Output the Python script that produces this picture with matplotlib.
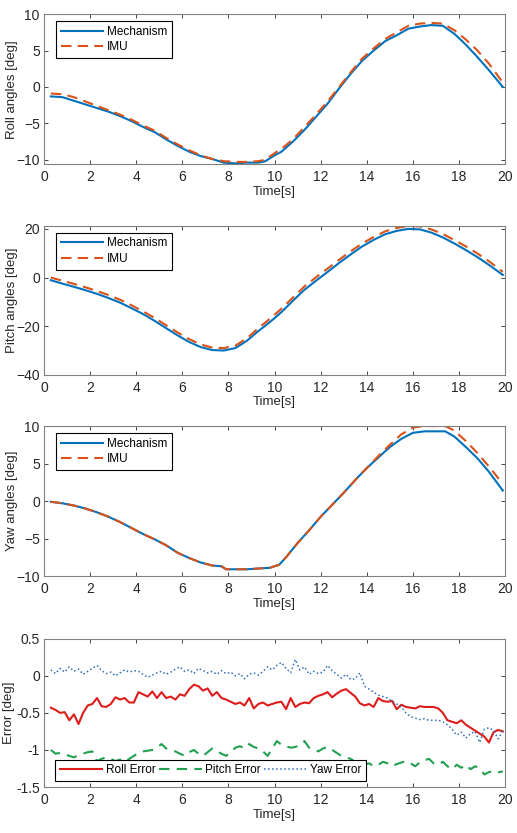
import numpy as np
import matplotlib
matplotlib.use('Agg')
import matplotlib.pyplot as plt

plt.rcParams['font.family'] = ['Liberation Sans', 'DejaVu Sans']
matplotlib.rc('xtick', labelsize=10, direction='in', top=True)
matplotlib.rc('ytick', labelsize=10, direction='in', right=True)

MECH_COLOR = '#0072BD'
IMU_COLOR = '#D95319'

# roll / pitch angle samples (s, deg)
t_rp = [0.3, 0.8, 1.3, 1.8, 2.3, 2.8, 3.3, 3.8, 4.3, 4.8, 5.3, 5.8, 6.3, 6.8,
        7.3, 7.8, 8.3, 8.8, 9.3, 9.6, 10.0, 10.3, 10.8, 11.3, 11.8, 12.3,
        12.8, 13.3, 13.8, 14.3, 14.8, 15.3, 15.8, 16.3, 16.8, 17.3, 17.8,
        18.3, 18.8, 19.3, 19.9]
roll_mech = [-1.3, -1.4, -1.9, -2.4, -2.9, -3.4, -4.0, -4.7, -5.5, -6.2, -7.2,
             -8.1, -8.9, -9.5, -9.9, -10.4, -10.5, -10.4, -10.4, -10.2, -9.4,
             -8.9, -7.5, -5.9, -4.1, -2.3, -0.2, 1.8, 3.6, 5.0, 6.3, 7.1, 8.0,
             8.3, 8.5, 8.4, 7.3, 5.8, 4.1, 2.3, 0.0]
roll_imu = [-0.9, -1.0, -1.4, -2.0, -2.6, -3.2, -3.8, -4.5, -5.3, -6.0, -7.0,
            -7.9, -8.7, -9.4, -9.9, -10.2, -10.3, -10.3, -10.2, -10.0, -9.1,
            -8.5, -7.2, -5.5, -3.8, -2.0, 0.0, 2.0, 3.9, 5.3, 6.6, 7.5, 8.4,
            8.7, 8.8, 8.7, 7.8, 6.5, 5.0, 3.2, 0.6]
pitch_mech = [-1.1, -2.5, -3.8, -5.2, -6.7, -8.4, -10.3, -12.6, -15.0, -17.8,
              -20.8, -23.8, -26.5, -28.6, -29.8, -30.0, -29.0, -26.0, -22.0,
              -19.8, -16.7, -14.2, -9.5, -5.0, -1.3, 2.3, 6.0, 9.5, 12.8,
              15.5, 17.8, 19.2, 20.0, 19.8, 18.5, 16.5, 14.0, 11.3, 8.4, 5.2,
              1.1]
pitch_imu = [0.0, -1.3, -2.6, -4.0, -5.5, -7.2, -9.1, -11.4, -13.9, -16.6,
             -19.6, -22.6, -25.3, -27.5, -28.8, -29.0, -28.0, -25.0, -20.8,
             -18.5, -15.3, -12.8, -8.2, -3.6, 0.1, 3.7, 7.3, 10.8, 14.0, 16.7,
             19.0, 20.4, 21.2, 21.0, 19.8, 17.9, 15.4, 12.8, 9.9, 6.7, 2.4]

# yaw angle samples
t_yaw = [0.3, 0.8, 1.3, 1.8, 2.3, 2.8, 3.3, 3.8, 4.3, 4.8, 5.3, 5.8, 6.3, 6.8,
         7.3, 7.7, 7.9, 8.3, 8.8, 9.3, 9.8, 10.2, 10.5, 11.0, 11.5, 12.0,
         12.5, 13.0, 13.5, 14.0, 14.5, 15.0, 15.5, 16.0, 16.5, 17.0, 17.4,
         17.8, 18.3, 18.8, 19.3, 19.9]
yaw_mech = [-0.1, -0.3, -0.6, -1.0, -1.5, -2.1, -2.8, -3.6, -4.4, -5.1, -5.9,
            -6.9, -7.6, -8.2, -8.6, -8.7, -9.1, -9.1, -9.1, -9.0, -8.9, -8.5,
            -7.5, -5.6, -3.9, -2.1, -0.5, 1.1, 2.8, 4.4, 5.8, 7.2, 8.3, 9.1,
            9.3, 9.3, 9.3, 8.6, 7.2, 5.7, 3.9, 1.4]
yaw_imu = [-0.1, -0.3, -0.6, -1.0, -1.5, -2.1, -2.8, -3.6, -4.4, -5.1, -5.9,
           -6.9, -7.6, -8.2, -8.6, -8.7, -9.1, -9.1, -9.1, -9.0, -8.9, -8.5,
           -7.5, -5.6, -3.9, -2.1, -0.5, 1.1, 2.8, 4.4, 6.0, 7.5, 8.9, 9.8,
           10.0, 10.0, 10.0, 9.4, 8.0, 6.4, 4.6, 2.3]

# error samples, every 0.2 s from 0.3 s to 19.9 s
t_err = np.arange(99) * 0.2 + 0.3
roll_err = [-0.43, -0.46, -0.50, -0.49, -0.60, -0.52, -0.65, -0.50, -0.40,
            -0.38, -0.30, -0.41, -0.42, -0.38, -0.29, -0.32, -0.30, -0.36,
            -0.36,
            -0.22, -0.25, -0.28, -0.21, -0.30, -0.22, -0.30, -0.28, -0.32,
            -0.25, -0.27, -0.18, -0.12, -0.14, -0.20, -0.17, -0.27, -0.22,
            -0.30, -0.32,
            -0.35, -0.38, -0.36, -0.40, -0.30, -0.44, -0.38, -0.36, -0.40,
            -0.38, -0.36, -0.35, -0.45, -0.30, -0.42, -0.38, -0.36, -0.37,
            -0.30, -0.27,
            -0.25, -0.22, -0.29, -0.24, -0.20, -0.18, -0.23, -0.28, -0.37,
            -0.40, -0.38, -0.42, -0.30, -0.34, -0.35, -0.34, -0.45, -0.39,
            -0.42, -0.43,
            -0.44, -0.41, -0.42, -0.42, -0.42, -0.44, -0.50, -0.60, -0.62,
            -0.64, -0.60, -0.66, -0.70, -0.74, -0.78, -0.82, -0.90, -0.76,
            -0.73, -0.75]
pitch_err = [-1.00, -1.05, -1.04, -1.06, -1.08, -1.10, -1.07, -1.05, -1.03,
             -1.02, -1.15, -1.12, -1.10, -1.12, -1.15, -1.13, -1.16, -1.12,
             -1.08,
             -1.04, -1.02, -1.01, -1.00, -0.97, -0.92, -0.98, -1.00, -1.02,
             -1.05, -1.08, -1.03, -1.00, -1.05, -1.08, -1.03, -0.98, -1.02,
             -1.05, -1.08,
             -1.03, -0.97, -0.95, -0.98, -0.92, -0.96, -0.98, -1.02, -1.08,
             -0.98, -0.88, -0.93, -0.95, -0.97, -0.96, -0.93, -0.88, -0.97,
             -0.99, -1.02,
             -0.98, -0.96, -1.00, -1.04, -1.08, -1.10, -1.12, -1.16, -1.22,
             -1.20, -1.18, -1.22, -1.20, -1.16, -1.18, -1.22, -1.19, -1.17,
             -1.15, -1.18,
             -1.22, -1.17, -1.14, -1.12, -1.18, -1.20, -1.16, -1.22, -1.26,
             -1.20, -1.24, -1.20, -1.26, -1.22, -1.25, -1.33, -1.30, -1.28,
             -1.30, -1.29]
yaw_err = [0.08, 0.03, 0.10, 0.05, 0.12, 0.06, 0.09, 0.02, 0.06, 0.10, 0.14,
           0.07, 0.03, 0.05, 0.00, 0.04, 0.08, 0.05, 0.07,
           0.06, 0.02, -0.02, 0.01, 0.04, 0.06, 0.02, 0.05, 0.09, 0.12, 0.06,
           0.08, 0.03, 0.10, 0.07, 0.04, 0.06, 0.02, 0.07, 0.03,
           0.05, 0.00, 0.03, -0.04, 0.02, 0.04, 0.01, 0.06, 0.12, 0.08, 0.14,
           0.18, 0.10, 0.04, 0.22, 0.08, 0.12, 0.02, 0.06, 0.03,
           0.05, 0.14, 0.07, 0.02, -0.03, 0.02, -0.05, -0.04, 0.04, -0.14,
           -0.18, -0.22, -0.26, -0.28, -0.30, -0.34, -0.38, -0.42, -0.50,
           -0.55,
           -0.57, -0.59, -0.58, -0.60, -0.60, -0.60, -0.62, -0.66, -0.72,
           -0.80, -0.76, -0.84, -0.78, -0.75, -0.90, -0.72, -0.70, -0.74,
           -0.85, -0.74]


def style_axes(ax, ylabel, yticks, ylabel_x=-0.056):
    ax.set_xlim(0, 20)
    ax.set_xticks(range(0, 21, 2))
    ax.set_yticks(yticks)
    ax.set_xlabel('Time[s]', fontsize=9.5, color='#262626', labelpad=1)
    ax.set_ylabel(ylabel, fontsize=9.5, color='#262626')
    # x gives the right edge of the rotated label
    ax.yaxis.set_label_coords(ylabel_x, 0.5)
    ax.tick_params(colors='#262626', length=3, width=0.6)
    ax.tick_params(axis='x', pad=4.5)
    ax.tick_params(axis='y', pad=3)
    for sp in ax.spines.values():
        sp.set_color('#808080')
        sp.set_linewidth(0.8)


def legend_box(ax, anchor, **kw):
    leg = ax.legend(fontsize=8.5, fancybox=False, edgecolor='black',
                    framealpha=1, borderpad=0.4, handlelength=3.6,
                    handletextpad=0.3, labelspacing=0.3, borderaxespad=0,
                    bbox_to_anchor=anchor, **kw)
    leg.get_frame().set_linewidth(0.8)
    return leg


def plot_angles(ax, t, mech, imu, ylabel, yticks, ylim):
    ax.plot(t, mech, '-', color=MECH_COLOR, lw=1.5, label='Mechanism')
    ax.plot(t, imu, '--', color=IMU_COLOR, lw=1.5, dashes=(5, 3), label='IMU')
    style_axes(ax, ylabel, yticks)
    ax.set_ylim(ylim)
    legend_box(ax, (0.026, 0.953), loc='upper left')


fig = plt.figure(figsize=(5.17, 8.33), dpi=100)
left, width = 0.085, 0.892
ax1 = fig.add_axes([left, 0.803, width, 0.180])
ax2 = fig.add_axes([left, 0.550, width, 0.179])
ax3 = fig.add_axes([left, 0.3085, width, 0.180])
ax4 = fig.add_axes([left, 0.0552, width, 0.178])

plot_angles(ax1, t_rp, roll_mech, roll_imu, 'Roll angles [deg]',
            [-10, -5, 0, 5, 10], (-10.6, 10))
plot_angles(ax2, t_rp, pitch_mech, pitch_imu, 'Pitch angles [deg]',
            [-40, -20, 0, 20], (-40, 21.3))
plot_angles(ax3, t_yaw, yaw_mech, yaw_imu, 'Yaw angles [deg]',
            [-10, -5, 0, 5, 10], (-10, 10))

ax4.plot(t_err, roll_err, '-', color='#DD1C1C', lw=1.5, label='Roll Error')
ax4.plot(t_err, pitch_err, '--', color='#22A04F', lw=1.5, dashes=(5, 3.5),
         label='Pitch Error')
ax4.plot(t_err, yaw_err, ':', color='#2E6FB8', lw=1.1, label='Yaw Error')
style_axes(ax4, 'Error [deg]', [-1.5, -1, -0.5, 0, 0.5], ylabel_x=-0.063)
ax4.set_yticklabels(['-1.5', '-1', '-0.5', '0', '0.5'])
ax4.set_ylim(-1.5, 0.5)
legend_box(ax4, (0.024, 0.04), loc='lower left', ncol=3, columnspacing=0.3)

fig.savefig('out.png', dpi=100)
